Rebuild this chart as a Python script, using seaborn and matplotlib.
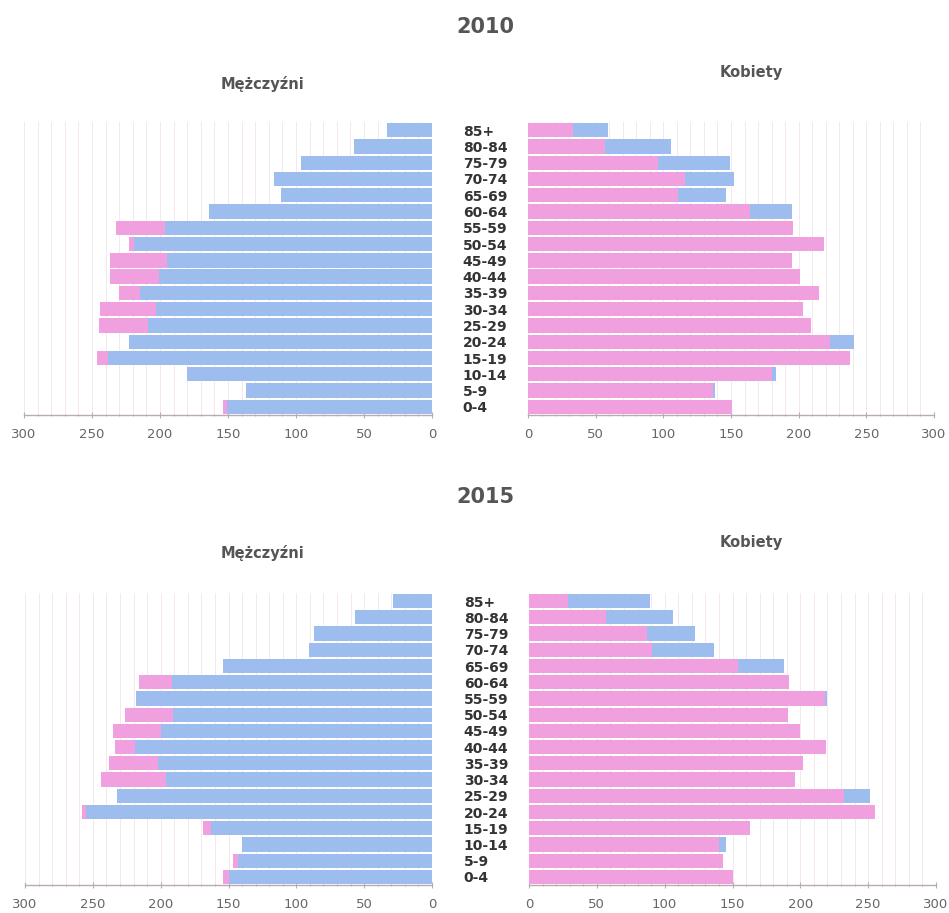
import matplotlib
matplotlib.use("Agg")
import matplotlib.pyplot as plt
from matplotlib.ticker import MultipleLocator
import seaborn as sns
import pandas as pd

# age groups, top to bottom
ages = ["85+", "80-84", "75-79", "70-74", "65-69", "60-64", "55-59", "50-54", "45-49",
        "40-44", "35-39", "30-34", "25-29", "20-24", "15-19", "10-14", "5-9", "0-4"]

# 2010: main series (blue on the left, pink on the right)
main_2010 = [33, 57, 96, 116, 111, 164, 196, 219, 195, 201, 215, 203, 209, 223, 238, 180, 137, 151]
# pink behind the left panel
left_back_2010 = [30, 55, 90, 110, 105, 160, 232, 223, 237, 237, 230, 244, 245, 220, 246, 175, 135, 154]
# blue behind the right panel
right_back_2010 = [59, 106, 149, 152, 146, 195, 190, 210, 190, 195, 210, 198, 203, 241, 232, 183, 138, 146]

# 2015
main_2015 = [29, 57, 87, 91, 154, 192, 218, 191, 200, 219, 202, 196, 232, 255, 163, 140, 143, 150]
left_back_2015 = [26, 54, 84, 88, 150, 216, 214, 226, 235, 234, 238, 244, 228, 258, 169, 137, 147, 154]
right_back_2015 = [89, 106, 122, 136, 188, 188, 220, 186, 195, 214, 198, 192, 251, 250, 158, 145, 140, 146]

BLUE = "#9dbdef"
PINK = "#f09fdf"
GRID = "#f2e8ee"
AXIS = "#b9aab3"
TEXT = "#555555"

sns.set_style("white")
plt.rcParams["font.family"] = ["DejaVu Sans"]

fig = plt.figure(figsize=(9.49, 9.13), dpi=100)


def draw_panel(ax, front, back, front_color, back_color, mirror, show_labels):
    df = pd.DataFrame({"age": ages, "front": front, "back": back})
    sns.barplot(data=df, x="back", y="age", order=ages, orient="h", color=back_color,
                saturation=1, width=0.88, linewidth=0, ax=ax)
    sns.barplot(data=df, x="front", y="age", order=ages, orient="h", color=front_color,
                saturation=1, width=0.88, linewidth=0, ax=ax)
    ax.set_ylim(len(ages) - 0.5, -0.5)
    if mirror:
        ax.set_xlim(300, 0)
    else:
        ax.set_xlim(0, 300)
    ax.xaxis.set_major_locator(MultipleLocator(50))
    ax.xaxis.set_minor_locator(MultipleLocator(10))
    ax.set_axisbelow(True)
    ax.grid(axis="x", which="both", color=GRID, lw=0.7)
    ax.grid(axis="y", visible=False)
    for s in ["top", "left", "right"]:
        ax.spines[s].set_visible(False)
    ax.spines["bottom"].set_color(AXIS)
    ax.spines["bottom"].set_linewidth(1)
    ax.tick_params(axis="x", which="major", direction="inout", length=5, color=AXIS,
                   labelsize=9.5, labelcolor="#666666", pad=7, bottom=True)
    ax.tick_params(axis="x", which="minor", direction="inout", length=2, color=AXIS, bottom=True)
    ax.set_xlabel("")
    ax.set_ylabel("")
    if show_labels:
        ax.set_yticks(range(len(ages)))
        ax.set_yticklabels(ages, ha="left", fontsize=10, fontweight="bold", color="#333333")
        ax.tick_params(axis="y", length=0, pad=47)
    else:
        ax.set_yticks([])


H = 913.0
W = 949.0


def box(x0, x1, ytop, ybot):
    return [x0 / W, 1 - ybot / H, (x1 - x0) / W, (ybot - ytop) / H]


ax1 = fig.add_axes(box(24, 432, 122, 415))
ax2 = fig.add_axes(box(528, 934, 122, 415))
ax3 = fig.add_axes(box(25, 432, 593, 885))
ax4 = fig.add_axes(box(529, 936, 593, 885))

draw_panel(ax1, main_2010, left_back_2010, BLUE, PINK, True, False)
draw_panel(ax2, main_2010, right_back_2010, PINK, BLUE, False, True)
draw_panel(ax3, main_2015, left_back_2015, BLUE, PINK, True, False)
draw_panel(ax4, main_2015, right_back_2015, PINK, BLUE, False, True)

# titles
for year, yt, ym, yk in [("2010", 27, 84, 72), ("2015", 497, 553, 542)]:
    fig.text(485 / W, 1 - yt / H, year, ha="center", va="center", fontsize=15,
             fontweight="bold", color=TEXT)
    fig.text(262 / W, 1 - ym / H, "Mężczyźni", ha="center", va="center", fontsize=10.5,
             fontweight="bold", color=TEXT)
    fig.text(751 / W, 1 - yk / H, "Kobiety", ha="center", va="center", fontsize=10.5,
             fontweight="bold", color=TEXT)

fig.savefig("out.png", dpi=100)
